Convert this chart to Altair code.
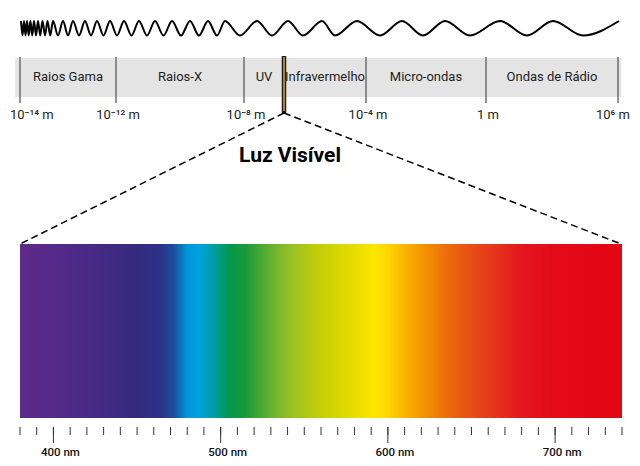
import altair as alt
import pandas as pd

# ---- values ----
# electromagnetic bands, edges in log10(wavelength / m)
band_names = ["Raios Gama", "Raios-X", "UV", "Infravermelho", "Micro-ondas", "Ondas de Rádio"]
band_from = [-14, -12, -8, -6.26, -4, 0]
band_to = [-12, -8, -6.26, -4, 0, 6]
strip_from, strip_to = -14.1, 6.15

edge_logs = [-14, -12, -8, -4, 0, 6]
edge_labels = ["10⁻¹⁴ m", "10⁻¹² m", "10⁻⁸ m", "10⁻⁴ m", "1 m", "10⁶ m"]
visible_log = -6.26

# decorative wave: x of crests and troughs (reference pixels)
wave_crest_x = [21, 24, 27, 30.4, 34, 38, 42.5, 47.5, 53, 63, 73, 85, 97, 110, 124, 139,
                155, 172, 190, 208, 225, 257, 288, 322, 357, 402, 445, 500, 553, 619]
wave_trough_x = [22.5, 25.5, 28.7, 32.2, 36, 40.2, 45, 50.2, 58, 68, 79, 91, 103.5, 117,
                 131.5, 147, 163.5, 181, 199, 217, 240, 272, 303, 335, 380, 423, 470, 527, 583]

# visible spectrum colour stops (nm -> colour)
spectrum_nm = [380, 400, 425, 450, 464, 472, 480, 487, 495, 505, 515, 528, 542, 556,
               575, 592, 600, 610, 622, 635, 650, 665, 680, 700, 740]
spectrum_colors = ["#5E2B88", "#56298A", "#472A86", "#35297F", "#2B3388", "#1B4E9C",
                   "#0096D8", "#00A0E2", "#009EAA", "#00994C", "#1A9A3A", "#5DAE30",
                   "#97C125", "#BDCB0A", "#DED900", "#FFE600", "#FDD600", "#F9B400",
                   "#F39200", "#EC6D0A", "#E74E14", "#E5331C", "#E31720", "#E30A1A", "#E30613"]

tick_nm = list(range(380, 741, 10))
label_nm = [400, 500, 600, 700]
label_text = ["400 nm", "500 nm", "600 nm", "700 nm"]

# ---- scales ----
FONT = "Roboto, Liberation Sans, sans-serif"
# the strip is not to scale: piecewise positions of each log10 value
log_scale = alt.Scale(domain=[-14, -12, -8, -6.26, -4, 0, 6],
                      range=[12, 108, 236, 276, 358, 478, 610])
nm_scale = alt.Scale(domain=[380, 740], range=[12, 614])
px_x = alt.Scale(domain=[8, 632], range=[0, 624])
px_y = alt.Scale(domain=[8, 458], range=[0, 450])


def ypos(v):
    return alt.YDatum(v, scale=px_y, axis=None)


# ---- tables ----
bands = pd.DataFrame({"name": band_names, "lo": band_from, "hi": band_to})
bands["mid"] = (bands["lo"] + bands["hi"]) / 2
edges = pd.DataFrame({"log": edge_logs, "label": edge_labels})
strip = pd.DataFrame({"lo": [strip_from], "hi": [strip_to]})
visible = pd.DataFrame({"log": [visible_log]})
wave = pd.concat([
    pd.DataFrame({"x": wave_crest_x, "side": "crest"}),
    pd.DataFrame({"x": wave_trough_x, "side": "trough"}),
]).sort_values("x")
wave["y"] = wave["side"].map({"crest": 21, "trough": 35.5})
ticks = pd.DataFrame({"nm": tick_nm})
majors = pd.DataFrame({"nm": label_nm, "label": label_text})
spec = pd.DataFrame({"lo": [spectrum_nm[0]], "hi": [spectrum_nm[-1]]})

span = spectrum_nm[-1] - spectrum_nm[0]
gradient = alt.LinearGradient(
    gradient="linear", x1=0, x2=1, y1=0, y2=0,
    stops=[alt.GradientStop(color=c, offset=(n - spectrum_nm[0]) / span)
           for n, c in zip(spectrum_nm, spectrum_colors)],
)

# ---- layers ----
wave_line = alt.Chart(wave).mark_line(color="black", strokeWidth=2, interpolate="monotone").encode(
    x=alt.X("x:Q", scale=px_x, axis=None),
    y=alt.Y("y:Q", scale=px_y, axis=None),
)

strip_rect = alt.Chart(strip).mark_rect(color="#E4E4E4").encode(
    x=alt.X("lo:Q", scale=log_scale, axis=None), x2="hi:Q",
    y=ypos(58), y2=alt.Y2Datum(97),
)

dividers = alt.Chart(edges).mark_rule(color="#6E6E6E", strokeWidth=1.5).encode(
    x=alt.X("log:Q", scale=log_scale, axis=None),
    y=ypos(57), y2=alt.Y2Datum(103),
)

visible_dark = alt.Chart(visible).mark_rule(color="#1A1A1A", strokeWidth=4.5).encode(
    x=alt.X("log:Q", scale=log_scale, axis=None),
    y=ypos(56), y2=alt.Y2Datum(113),
)
visible_gold = alt.Chart(visible).mark_rule(color="#D9A93A", strokeWidth=1.5).encode(
    x=alt.X("log:Q", scale=log_scale, axis=None),
    y=ypos(57), y2=alt.Y2Datum(111),
)

band_text = alt.Chart(bands).mark_text(font=FONT, fontSize=13, color="#1E1E1E").encode(
    x=alt.X("mid:Q", scale=log_scale, axis=None),
    y=ypos(77),
    text="name:N",
)


def edge_layer(rows, **kw):
    return alt.Chart(edges.iloc[rows]).mark_text(font=FONT, fontSize=13, color="#1E1E1E", **kw).encode(
        x=alt.X("log:Q", scale=log_scale, axis=None),
        y=ypos(115),
        text="label:N",
    )


# outer labels are kept inside the page
edge_first = edge_layer([0], align="left", dx=-10)
edge_mid = edge_layer([1, 2, 3, 4], dx=2)
edge_last = edge_layer([5], align="right", dx=12)

dash_left = alt.Chart(visible).mark_rule(color="black", strokeWidth=1.5, strokeDash=[7, 4]).encode(
    x=alt.XDatum(284, scale=px_x, axis=None), x2=alt.X2Datum(20),
    y=ypos(113), y2=alt.Y2Datum(244),
)
dash_right = alt.Chart(visible).mark_rule(color="black", strokeWidth=1.5, strokeDash=[7, 4]).encode(
    x=alt.XDatum(284, scale=px_x, axis=None), x2=alt.X2Datum(621),
    y=ypos(113), y2=alt.Y2Datum(244),
)

title = alt.Chart(visible).mark_text(
    font=FONT, fontSize=21, fontWeight="bold", color="black", text="Luz Visível"
).encode(
    x=alt.XDatum(290, scale=px_x, axis=None),
    y=ypos(156),
)

spectrum = alt.Chart(spec).mark_rect(color=gradient).encode(
    x=alt.X("lo:Q", scale=nm_scale, axis=None), x2="hi:Q",
    y=ypos(244), y2=alt.Y2Datum(418),
)

minor_ticks = alt.Chart(ticks).mark_rule(color="#333333", strokeWidth=1).encode(
    x=alt.X("nm:Q", scale=nm_scale, axis=None),
    y=ypos(427), y2=alt.Y2Datum(435),
)
major_ticks = alt.Chart(majors).mark_rule(color="#333333", strokeWidth=1).encode(
    x=alt.X("nm:Q", scale=nm_scale, axis=None),
    y=ypos(427), y2=alt.Y2Datum(443),
)
nm_text = alt.Chart(majors).mark_text(font=FONT, fontSize=11.5, fontWeight=500, color="#111111", dx=7).encode(
    x=alt.X("nm:Q", scale=nm_scale, axis=None),
    y=ypos(453),
    text="label:N",
)

chart = alt.layer(
    wave_line, strip_rect, dividers, visible_dark, visible_gold, band_text,
    edge_first, edge_mid, edge_last,
    dash_left, dash_right, title, spectrum, minor_ticks, major_ticks, nm_text,
).resolve_scale(
    x="independent"
).properties(
    width=624, height=450, padding=0,
    autosize=alt.AutoSizeParams(type="none"),
    background="white",
).configure_view(stroke="transparent")

chart.save("out.html", embed_options={"renderer": "svg", "actions": False})
